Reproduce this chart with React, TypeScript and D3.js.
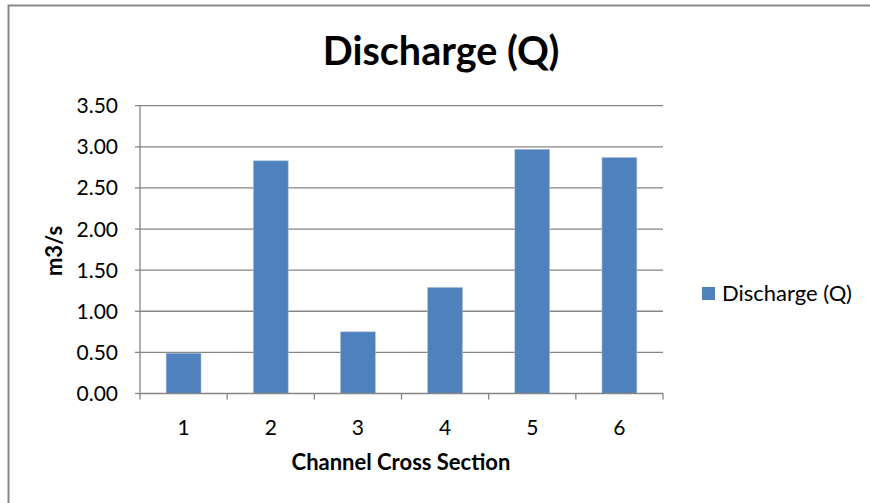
import React from "react";
import * as d3 from "d3";

const categories = ["1", "2", "3", "4", "5", "6"];
const discharge = [0.49, 2.83, 0.75, 1.29, 2.97, 2.87];
const yTicks = [0, 0.5, 1, 1.5, 2, 2.5, 3, 3.5];
const seriesName = "Discharge (Q)";
const title = "Discharge (Q)";
const xTitle = "Channel Cross Section";
const yTitle = "m3/s";

const W = 870;
const H = 503;
const plot = { left: 140, right: 663, top: 105.7, bottom: 393.5 };
const FONT = "Lato, 'Open Sans', sans-serif";
const BAR = "#4F81BD";
const GRID = "#868686";

export default function App() {
  const x = d3
    .scaleBand<string>()
    .domain(categories)
    .range([plot.left, plot.right])
    .padding(0);
  const y = d3.scaleLinear().domain([0, 3.5]).range([plot.bottom, plot.top]);
  const barW = x.bandwidth() * 0.4;
  const boundaries = d3.range(categories.length + 1).map((i) => plot.left + i * x.step());

  return (
    <svg
      width={W}
      height={H}
      style={{ position: "absolute", left: 0, top: 0, background: "#fff" }}
      fontFamily={FONT}
    >
      <rect x={0} y={0} width={W} height={H} fill="#fff" />
      {/* chart frame */}
      <rect x={8.5} y={5.5} width={W + 20} height={H + 20} fill="none" stroke="#878787" strokeWidth={2} />

      <text x={441} y={64.5} textAnchor="middle" fontSize={39.5} fontWeight="bold" fill="#000">
        {title}
      </text>

      {/* gridlines and y labels */}
      {yTicks.map((t) => (
        <g key={t}>
          {t > 0 && (
            <line x1={plot.left} x2={plot.right} y1={y(t)} y2={y(t)} stroke={GRID} strokeWidth={1.3} />
          )}
          <line x1={plot.left - 5} x2={plot.left} y1={y(t)} y2={y(t)} stroke={GRID} strokeWidth={1.3} />
          <text x={118} y={y(t)} dy="0.36em" textAnchor="end" fontSize={21} fill="#000">
            {d3.format(".2f")(t)}
          </text>
        </g>
      ))}

      {/* bars */}
      {discharge.map((v, i) => {
        const cx = (x(categories[i]) as number) + x.bandwidth() / 2;
        return (
          <rect
            key={i}
            x={cx - barW / 2}
            y={y(v)}
            width={barW}
            height={y(0) - y(v)}
            fill={BAR}
            stroke="#a9c0dd"
            strokeWidth={0.6}
          />
        );
      })}

      {/* axes */}
      <line x1={plot.left} x2={plot.left} y1={plot.top} y2={plot.bottom} stroke={GRID} strokeWidth={1.3} />
      <line x1={plot.left} x2={plot.right} y1={plot.bottom} y2={plot.bottom} stroke={GRID} strokeWidth={1.3} />
      {boundaries.map((bx, i) => (
        <line key={i} x1={bx} x2={bx} y1={plot.bottom} y2={plot.bottom + 6} stroke={GRID} strokeWidth={1.3} />
      ))}
      {categories.map((c) => (
        <text
          key={c}
          x={(x(c) as number) + x.bandwidth() / 2}
          y={427}
          dy="0.36em"
          textAnchor="middle"
          fontSize={21}
          fill="#000"
        >
          {c}
        </text>
      ))}

      <text x={401} y={462} dy="0.36em" textAnchor="middle" fontSize={22} fontWeight="bold" fill="#000">
        {xTitle}
      </text>
      <text
        transform="translate(54, 251) rotate(-90)"
        textAnchor="middle"
        dy="0.36em"
        fontSize={22}
        fontWeight="bold"
        fill="#000"
      >
        {yTitle}
      </text>

      {/* legend */}
      <rect x={702} y={287} width={13} height={13} fill={BAR} />
      <text x={722} y={293.5} dy="0.36em" fontSize={22} fill="#000">
        {seriesName}
      </text>
    </svg>
  );
}
